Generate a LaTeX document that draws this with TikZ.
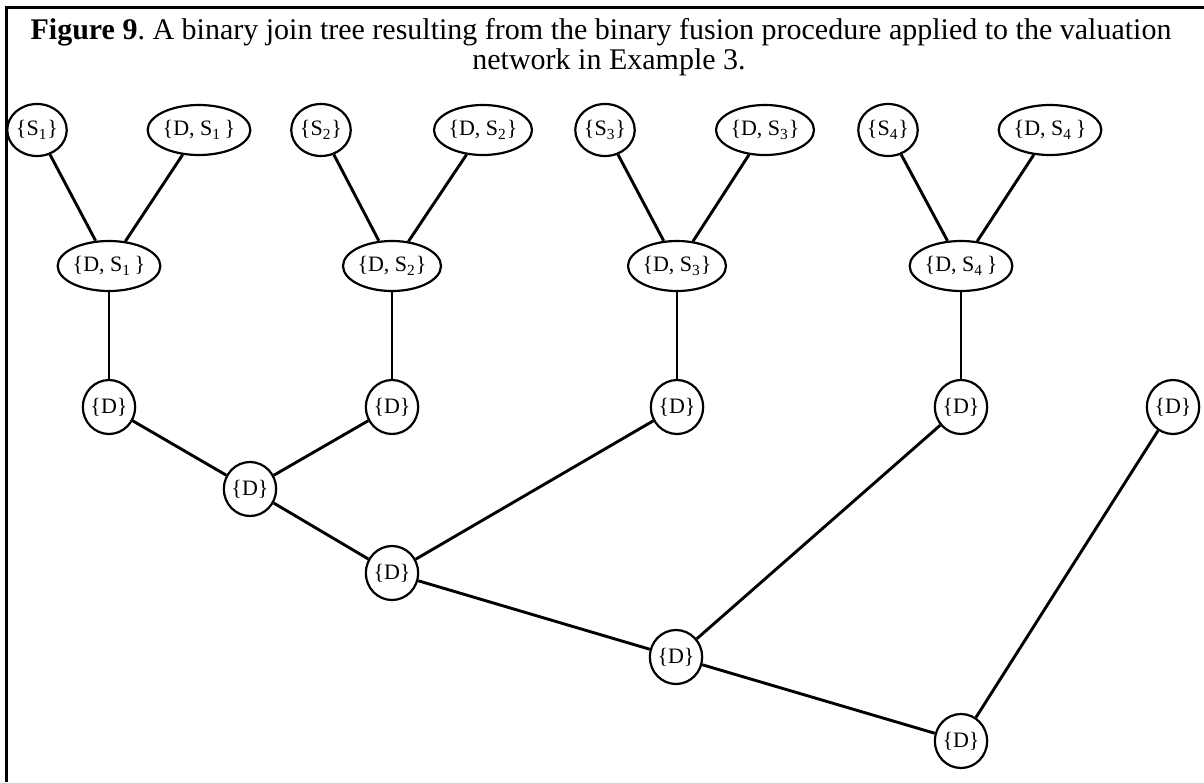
\documentclass[tikz,border=0pt]{standalone}
\usepackage{fontspec}
\setmainfont{Liberation Serif}
\frenchspacing
\usetikzlibrary{shapes.geometric}
\begin{document}
\begin{tikzpicture}[x=0.5pt,y=-0.5pt,
  frameline/.style={line width=1.5pt},
  captext/.style={font=\fontsize{15}{17}\selectfont, inner sep=0pt, anchor=base},
  nd/.style={draw, ellipse, line width=1.1pt, inner sep=0pt, font=\fontsize{11}{12}\selectfont},
  snode/.style={nd, minimum width=26pt, minimum height=26pt},
  dsnode/.style={nd, minimum width=49pt, minimum height=25pt},
  msnode/.style={nd, minimum width=49pt, minimum height=25pt},
  dnode/.style={nd, minimum width=25pt, minimum height=27pt},
  conn/.style={line width=1.45pt},
  vconn/.style={line width=1.05pt}]
\useasboundingbox (0,0) rectangle (1204,782);
\coordinate (tl) at (6,7);
\coordinate (tr) at (1204,7);
\coordinate (bl) at (6,782);
\draw[frameline] (tr) -- (tl) -- (bl);
\node[captext] (t1) at (601,39) {\textbf{Figure 9}. A binary join tree resulting from the binary fusion procedure applied to the valuation};
\node[captext] (t2) at (609,69) {network in Example 3.};
% top row
\node[snode] (s1) at (37,130) {\{S\textsubscript{1}\}};
\node[dsnode] (ds1) at (199,130) {\{D, S\textsubscript{1}\,\}};
\node[snode] (s2) at (321,130) {\{S\textsubscript{2}\}};
\node[dsnode] (ds2) at (483,130) {\{D, S\textsubscript{2}\}};
\node[snode] (s3) at (605,130) {\{S\textsubscript{3}\}};
\node[dsnode] (ds3) at (765,130) {\{D, S\textsubscript{3}\}};
\node[snode] (s4) at (888,130) {\{S\textsubscript{4}\}};
\node[dsnode] (ds4) at (1050,130) {\{D, S\textsubscript{4}\,\}};
% second row
\node[msnode] (m1) at (109,266) {\{D, S\textsubscript{1}\,\}};
\node[msnode] (m2) at (392,266) {\{D, S\textsubscript{2}\}};
\node[msnode] (m3) at (677,266) {\{D, S\textsubscript{3}\}};
\node[msnode] (m4) at (961,266) {\{D, S\textsubscript{4}\,\}};
% third row
\node[dnode] (d1) at (109,407) {\{D\}};
\node[dnode] (d2) at (392,407) {\{D\}};
\node[dnode] (d3) at (677,407) {\{D\}};
\node[dnode] (d4) at (961,407) {\{D\}};
\node[dnode] (d5) at (1173,407) {\{D\}};
% lower
\node[dnode] (e1) at (250,489) {\{D\}};
\node[dnode] (e2) at (392,573) {\{D\}};
\node[dnode] (e3) at (676,657) {\{D\}};
\node[dnode] (e4) at (961,741) {\{D\}};
% connectors
\draw[conn] (s1) -- (m1);
\draw[conn] (ds1) -- (m1);
\draw[conn] (s2) -- (m2);
\draw[conn] (ds2) -- (m2);
\draw[conn] (s3) -- (m3);
\draw[conn] (ds3) -- (m3);
\draw[conn] (s4) -- (m4);
\draw[conn] (ds4) -- (m4);
\draw[vconn] (m1) -- (d1);
\draw[vconn] (m2) -- (d2);
\draw[vconn] (m3) -- (d3);
\draw[vconn] (m4) -- (d4);
\draw[conn] (d1) -- (e1);
\draw[conn] (d2) -- (e1);
\draw[conn] (e1) -- (e2);
\draw[conn] (d3) -- (e2);
\draw[conn] (e2) -- (e3);
\draw[conn] (d4) -- (e3);
\draw[conn] (e3) -- (e4);
\draw[conn] (d5) -- (e4);
\end{tikzpicture}
\end{document}
